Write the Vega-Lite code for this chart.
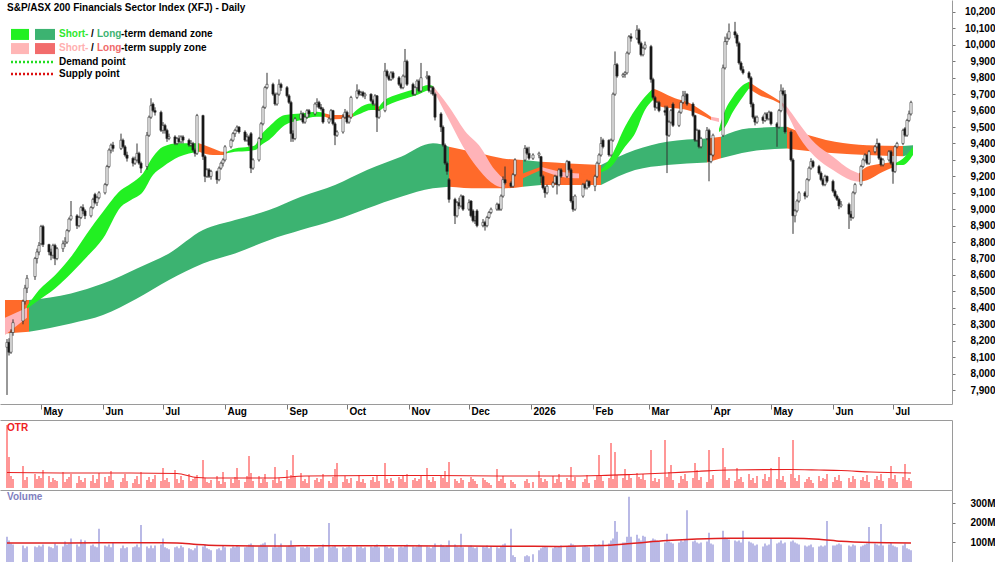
{
"$schema":"https://vega.github.io/schema/vega-lite/v6.json",
"padding":0,
"spacing":0,
"background":"white",
"config":{"font":"Liberation Sans","view":{"stroke":null},"axis":{"grid":false}},
"datasets":{
"px":[
{"d":"2025-04-14","o":8160,"h":8210,"l":7870,"c":8190,"r":63,"v":130},
{"d":"2025-04-15","o":8190,"h":8215,"l":8110,"c":8130,"r":31,"v":110},
{"d":"2025-04-16","o":8130,"h":8270,"l":8120,"c":8250,"r":12,"v":95},
{"d":"2025-04-17","o":8250,"h":8330,"l":8230,"c":8310,"r":9,"v":90},
{"d":"2025-04-22","o":8320,"h":8450,"l":8300,"c":8440,"r":22,"v":85},
{"d":"2025-04-23","o":8440,"h":8540,"l":8420,"c":8520,"r":8,"v":70},
{"d":"2025-04-24","o":8520,"h":8600,"l":8490,"c":8580,"r":11,"v":80},
{"d":"2025-04-28","o":8590,"h":8710,"l":8570,"c":8700,"r":14,"v":80},
{"d":"2025-04-29","o":8700,"h":8760,"l":8670,"c":8740,"r":9,"v":75},
{"d":"2025-04-30","o":8740,"h":8800,"l":8720,"c":8780,"r":12,"v":85},
{"d":"2025-05-01","o":8790,"h":8905,"l":8780,"c":8895,"r":10,"v":80},
{"d":"2025-05-02","o":8895,"h":8905,"l":8770,"c":8785,"r":18,"v":90},
{"d":"2025-05-05","o":8785,"h":8790,"l":8720,"c":8740,"r":12,"v":80},
{"d":"2025-05-06","o":8740,"h":8760,"l":8690,"c":8720,"r":6,"v":75},
{"d":"2025-05-07","o":8720,"h":8790,"l":8700,"c":8780,"r":10,"v":70},
{"d":"2025-05-08","o":8780,"h":8790,"l":8660,"c":8700,"r":8,"v":95},
{"d":"2025-05-09","o":8700,"h":8770,"l":8690,"c":8760,"r":7,"v":85},
{"d":"2025-05-12","o":8760,"h":8810,"l":8740,"c":8790,"r":16,"v":80},
{"d":"2025-05-13","o":8790,"h":8830,"l":8770,"c":8800,"r":6,"v":105},
{"d":"2025-05-14","o":8800,"h":8880,"l":8790,"c":8870,"r":9,"v":90},
{"d":"2025-05-15","o":8870,"h":8950,"l":8860,"c":8940,"r":11,"v":95},
{"d":"2025-05-16","o":8940,"h":9050,"l":8930,"c":8960,"r":14,"v":120},
{"d":"2025-05-19","o":8960,"h":8970,"l":8880,"c":8900,"r":5,"v":90},
{"d":"2025-05-20","o":8900,"h":8960,"l":8890,"c":8950,"r":12,"v":80},
{"d":"2025-05-21","o":8950,"h":9020,"l":8940,"c":9010,"r":8,"v":115},
{"d":"2025-05-22","o":9010,"h":9030,"l":8970,"c":8990,"r":6,"v":95},
{"d":"2025-05-23","o":8990,"h":9000,"l":8940,"c":8960,"r":10,"v":110},
{"d":"2025-05-26","o":8960,"h":9020,"l":8950,"c":9010,"r":7,"v":85},
{"d":"2025-05-27","o":9010,"h":9070,"l":9000,"c":9060,"r":13,"v":90},
{"d":"2025-05-28","o":9090,"h":9100,"l":9030,"c":9040,"r":5,"v":80},
{"d":"2025-05-29","o":9040,"h":9080,"l":9020,"c":9070,"r":9,"v":75},
{"d":"2025-05-30","o":9070,"h":9110,"l":9060,"c":9100,"r":15,"v":170},
{"d":"2025-06-02","o":9100,"h":9160,"l":9090,"c":9150,"r":11,"v":85},
{"d":"2025-06-03","o":9150,"h":9270,"l":9140,"c":9260,"r":6,"v":80},
{"d":"2025-06-04","o":9260,"h":9370,"l":9250,"c":9360,"r":12,"v":90},
{"d":"2025-06-05","o":9360,"h":9400,"l":9340,"c":9390,"r":17,"v":75},
{"d":"2025-06-06","o":9390,"h":9410,"l":9350,"c":9370,"r":8,"v":100},
{"d":"2025-06-10","o":9370,"h":9460,"l":9360,"c":9420,"r":6,"v":70},
{"d":"2025-06-11","o":9420,"h":9430,"l":9370,"c":9380,"r":10,"v":85},
{"d":"2025-06-12","o":9380,"h":9390,"l":9320,"c":9330,"r":14,"v":70},
{"d":"2025-06-13","o":9330,"h":9350,"l":9290,"c":9310,"r":7,"v":75},
{"d":"2025-06-16","o":9310,"h":9320,"l":9260,"c":9280,"r":5,"v":75},
{"d":"2025-06-17","o":9280,"h":9320,"l":9270,"c":9300,"r":9,"v":80},
{"d":"2025-06-18","o":9300,"h":9400,"l":9290,"c":9340,"r":12,"v":90},
{"d":"2025-06-19","o":9340,"h":9350,"l":9270,"c":9280,"r":4,"v":75},
{"d":"2025-06-20","o":9280,"h":9290,"l":9220,"c":9250,"r":16,"v":190},
{"d":"2025-06-23","o":9260,"h":9470,"l":9240,"c":9450,"r":8,"v":80},
{"d":"2025-06-24","o":9450,"h":9570,"l":9440,"c":9560,"r":11,"v":70},
{"d":"2025-06-25","o":9560,"h":9675,"l":9550,"c":9630,"r":6,"v":85},
{"d":"2025-06-26","o":9640,"h":9650,"l":9590,"c":9600,"r":9,"v":70},
{"d":"2025-06-27","o":9600,"h":9620,"l":9570,"c":9590,"r":13,"v":85},
{"d":"2025-06-30","o":9590,"h":9600,"l":9470,"c":9480,"r":7,"v":90},
{"d":"2025-07-01","o":9480,"h":9530,"l":9460,"c":9510,"r":20,"v":120},
{"d":"2025-07-02","o":9510,"h":9520,"l":9460,"c":9480,"r":8,"v":75},
{"d":"2025-07-03","o":9480,"h":9490,"l":9410,"c":9430,"r":10,"v":70},
{"d":"2025-07-04","o":9430,"h":9460,"l":9420,"c":9440,"r":6,"v":65},
{"d":"2025-07-07","o":9440,"h":9450,"l":9390,"c":9400,"r":18,"v":75},
{"d":"2025-07-08","o":9400,"h":9440,"l":9390,"c":9430,"r":9,"v":80},
{"d":"2025-07-09","o":9430,"h":9450,"l":9400,"c":9410,"r":5,"v":70},
{"d":"2025-07-10","o":9410,"h":9450,"l":9400,"c":9440,"r":12,"v":85},
{"d":"2025-07-11","o":9440,"h":9450,"l":9400,"c":9420,"r":8,"v":75},
{"d":"2025-07-14","o":9420,"h":9430,"l":9380,"c":9390,"r":14,"v":70},
{"d":"2025-07-15","o":9390,"h":9420,"l":9380,"c":9400,"r":7,"v":65},
{"d":"2025-07-16","o":9400,"h":9410,"l":9350,"c":9360,"r":9,"v":60},
{"d":"2025-07-17","o":9360,"h":9370,"l":9320,"c":9340,"r":11,"v":70},
{"d":"2025-07-18","o":9340,"h":9580,"l":9330,"c":9570,"r":13,"v":85},
{"d":"2025-07-21","o":9570,"h":9575,"l":9300,"c":9320,"r":28,"v":80},
{"d":"2025-07-22","o":9320,"h":9330,"l":9165,"c":9200,"r":10,"v":90},
{"d":"2025-07-23","o":9200,"h":9250,"l":9190,"c":9240,"r":6,"v":70},
{"d":"2025-07-24","o":9240,"h":9250,"l":9190,"c":9200,"r":5,"v":65},
{"d":"2025-07-25","o":9200,"h":9240,"l":9180,"c":9230,"r":8,"v":60},
{"d":"2025-07-28","o":9230,"h":9235,"l":9155,"c":9180,"r":12,"v":65},
{"d":"2025-07-29","o":9180,"h":9260,"l":9170,"c":9250,"r":7,"v":70},
{"d":"2025-07-30","o":9250,"h":9290,"l":9240,"c":9280,"r":4,"v":60},
{"d":"2025-07-31","o":9280,"h":9310,"l":9260,"c":9300,"r":16,"v":85},
{"d":"2025-08-01","o":9300,"h":9390,"l":9290,"c":9380,"r":6,"v":75},
{"d":"2025-08-04","o":9380,"h":9430,"l":9370,"c":9420,"r":9,"v":70},
{"d":"2025-08-05","o":9420,"h":9470,"l":9410,"c":9460,"r":5,"v":80},
{"d":"2025-08-06","o":9460,"h":9490,"l":9440,"c":9480,"r":11,"v":75},
{"d":"2025-08-07","o":9480,"h":9510,"l":9470,"c":9500,"r":20,"v":85},
{"d":"2025-08-08","o":9500,"h":9505,"l":9460,"c":9470,"r":8,"v":80},
{"d":"2025-08-11","o":9470,"h":9480,"l":9410,"c":9420,"r":6,"v":75},
{"d":"2025-08-12","o":9420,"h":9460,"l":9410,"c":9440,"r":12,"v":80},
{"d":"2025-08-13","o":9440,"h":9450,"l":9380,"c":9390,"r":32,"v":90},
{"d":"2025-08-14","o":9460,"h":9470,"l":9220,"c":9250,"r":15,"v":95},
{"d":"2025-08-15","o":9250,"h":9310,"l":9240,"c":9300,"r":7,"v":85},
{"d":"2025-08-18","o":9300,"h":9440,"l":9290,"c":9430,"r":12,"v":80},
{"d":"2025-08-19","o":9430,"h":9530,"l":9420,"c":9520,"r":5,"v":90},
{"d":"2025-08-20","o":9520,"h":9630,"l":9510,"c":9620,"r":9,"v":95},
{"d":"2025-08-21","o":9620,"h":9750,"l":9610,"c":9740,"r":14,"v":100},
{"d":"2025-08-22","o":9740,"h":9830,"l":9730,"c":9760,"r":6,"v":80},
{"d":"2025-08-25","o":9760,"h":9770,"l":9690,"c":9700,"r":8,"v":75},
{"d":"2025-08-26","o":9700,"h":9710,"l":9630,"c":9640,"r":21,"v":145},
{"d":"2025-08-27","o":9640,"h":9710,"l":9630,"c":9700,"r":5,"v":75},
{"d":"2025-08-28","o":9700,"h":9790,"l":9690,"c":9760,"r":10,"v":80},
{"d":"2025-08-29","o":9760,"h":9770,"l":9720,"c":9740,"r":7,"v":95},
{"d":"2025-09-01","o":9740,"h":9750,"l":9680,"c":9690,"r":18,"v":80},
{"d":"2025-09-02","o":9690,"h":9700,"l":9640,"c":9650,"r":9,"v":85},
{"d":"2025-09-03","o":9650,"h":9660,"l":9410,"c":9460,"r":13,"v":110},
{"d":"2025-09-04","o":9460,"h":9480,"l":9410,"c":9430,"r":33,"v":85},
{"d":"2025-09-05","o":9430,"h":9560,"l":9420,"c":9550,"r":11,"v":80},
{"d":"2025-09-08","o":9550,"h":9600,"l":9540,"c":9580,"r":15,"v":75},
{"d":"2025-09-09","o":9580,"h":9590,"l":9520,"c":9530,"r":7,"v":75},
{"d":"2025-09-10","o":9530,"h":9570,"l":9520,"c":9560,"r":9,"v":70},
{"d":"2025-09-11","o":9560,"h":9610,"l":9550,"c":9600,"r":5,"v":80},
{"d":"2025-09-12","o":9600,"h":9610,"l":9560,"c":9580,"r":12,"v":75},
{"d":"2025-09-15","o":9580,"h":9650,"l":9570,"c":9640,"r":8,"v":70},
{"d":"2025-09-16","o":9640,"h":9675,"l":9620,"c":9650,"r":10,"v":70},
{"d":"2025-09-17","o":9650,"h":9660,"l":9610,"c":9620,"r":6,"v":75},
{"d":"2025-09-18","o":9620,"h":9640,"l":9600,"c":9610,"r":9,"v":75},
{"d":"2025-09-19","o":9610,"h":9620,"l":9520,"c":9530,"r":14,"v":90},
{"d":"2025-09-22","o":9530,"h":9560,"l":9520,"c":9550,"r":7,"v":200},
{"d":"2025-09-23","o":9550,"h":9610,"l":9540,"c":9600,"r":5,"v":75},
{"d":"2025-09-24","o":9600,"h":9605,"l":9510,"c":9520,"r":11,"v":80},
{"d":"2025-09-25","o":9520,"h":9530,"l":9390,"c":9450,"r":19,"v":85},
{"d":"2025-09-26","o":9450,"h":9480,"l":9440,"c":9470,"r":25,"v":70},
{"d":"2025-09-29","o":9470,"h":9580,"l":9460,"c":9560,"r":6,"v":75},
{"d":"2025-09-30","o":9560,"h":9610,"l":9550,"c":9590,"r":12,"v":70},
{"d":"2025-10-01","o":9590,"h":9600,"l":9520,"c":9530,"r":9,"v":75},
{"d":"2025-10-02","o":9530,"h":9570,"l":9520,"c":9560,"r":5,"v":80},
{"d":"2025-10-03","o":9560,"h":9690,"l":9550,"c":9680,"r":10,"v":75},
{"d":"2025-10-06","o":9680,"h":9760,"l":9670,"c":9720,"r":7,"v":80},
{"d":"2025-10-07","o":9720,"h":9730,"l":9690,"c":9700,"r":13,"v":75},
{"d":"2025-10-08","o":9700,"h":9720,"l":9690,"c":9710,"r":6,"v":80},
{"d":"2025-10-09","o":9710,"h":9720,"l":9680,"c":9690,"r":9,"v":70},
{"d":"2025-10-10","o":9690,"h":9710,"l":9670,"c":9700,"r":5,"v":75},
{"d":"2025-10-13","o":9700,"h":9705,"l":9650,"c":9660,"r":8,"v":80},
{"d":"2025-10-14","o":9660,"h":9670,"l":9630,"c":9640,"r":11,"v":75},
{"d":"2025-10-15","o":9640,"h":9700,"l":9630,"c":9690,"r":6,"v":85},
{"d":"2025-10-16","o":9690,"h":9695,"l":9470,"c":9560,"r":12,"v":90},
{"d":"2025-10-17","o":9560,"h":9610,"l":9550,"c":9600,"r":7,"v":75},
{"d":"2025-10-20","o":9600,"h":9890,"l":9590,"c":9840,"r":25,"v":85},
{"d":"2025-10-21","o":9840,"h":9850,"l":9800,"c":9810,"r":9,"v":80},
{"d":"2025-10-22","o":9810,"h":9820,"l":9780,"c":9790,"r":5,"v":70},
{"d":"2025-10-23","o":9790,"h":9840,"l":9780,"c":9830,"r":10,"v":75},
{"d":"2025-10-24","o":9830,"h":9840,"l":9790,"c":9800,"r":7,"v":70},
{"d":"2025-10-27","o":9800,"h":9810,"l":9750,"c":9760,"r":11,"v":75},
{"d":"2025-10-28","o":9760,"h":9770,"l":9730,"c":9740,"r":9,"v":80},
{"d":"2025-10-29","o":9740,"h":9820,"l":9730,"c":9810,"r":12,"v":75},
{"d":"2025-10-30","o":9810,"h":9975,"l":9800,"c":9900,"r":6,"v":85},
{"d":"2025-10-31","o":9900,"h":9910,"l":9750,"c":9760,"r":14,"v":90},
{"d":"2025-11-03","o":9760,"h":9770,"l":9690,"c":9700,"r":8,"v":80},
{"d":"2025-11-04","o":9700,"h":9750,"l":9690,"c":9740,"r":10,"v":75},
{"d":"2025-11-05","o":9740,"h":9790,"l":9730,"c":9780,"r":7,"v":80},
{"d":"2025-11-06","o":9780,"h":9790,"l":9710,"c":9720,"r":9,"v":90},
{"d":"2025-11-07","o":9720,"h":9890,"l":9710,"c":9800,"r":12,"v":85},
{"d":"2025-11-10","o":9800,"h":9840,"l":9790,"c":9810,"r":20,"v":80},
{"d":"2025-11-11","o":9810,"h":9815,"l":9710,"c":9720,"r":8,"v":75},
{"d":"2025-11-12","o":9720,"h":9750,"l":9700,"c":9740,"r":6,"v":70},
{"d":"2025-11-13","o":9740,"h":9750,"l":9690,"c":9700,"r":11,"v":80},
{"d":"2025-11-14","o":9700,"h":9710,"l":9540,"c":9560,"r":7,"v":95},
{"d":"2025-11-17","o":9580,"h":9590,"l":9470,"c":9500,"r":13,"v":90},
{"d":"2025-11-18","o":9500,"h":9510,"l":9380,"c":9390,"r":10,"v":85},
{"d":"2025-11-19","o":9390,"h":9400,"l":9270,"c":9280,"r":17,"v":80},
{"d":"2025-11-20","o":9280,"h":9290,"l":9210,"c":9230,"r":6,"v":85},
{"d":"2025-11-21","o":9180,"h":9190,"l":9040,"c":9060,"r":26,"v":110},
{"d":"2025-11-24","o":9060,"h":9070,"l":8910,"c":8960,"r":9,"v":90},
{"d":"2025-11-25","o":8960,"h":9050,"l":8950,"c":9040,"r":7,"v":80},
{"d":"2025-11-26","o":9040,"h":9070,"l":9000,"c":9020,"r":5,"v":75},
{"d":"2025-11-27","o":9020,"h":9090,"l":9010,"c":9080,"r":10,"v":145},
{"d":"2025-11-28","o":9080,"h":9085,"l":8990,"c":9000,"r":8,"v":75},
{"d":"2025-12-01","o":9000,"h":9060,"l":8990,"c":9040,"r":6,"v":80},
{"d":"2025-12-02","o":9050,"h":9055,"l":8950,"c":8960,"r":11,"v":85},
{"d":"2025-12-03","o":8990,"h":9000,"l":8920,"c":8930,"r":9,"v":75},
{"d":"2025-12-04","o":8930,"h":8960,"l":8910,"c":8930,"r":7,"v":70},
{"d":"2025-12-05","o":8990,"h":9000,"l":8890,"c":8900,"r":4,"v":75},
{"d":"2025-12-08","o":8900,"h":8940,"l":8890,"c":8920,"r":10,"v":80},
{"d":"2025-12-09","o":8920,"h":8930,"l":8870,"c":8900,"r":8,"v":75},
{"d":"2025-12-10","o":8900,"h":8960,"l":8890,"c":8950,"r":6,"v":85},
{"d":"2025-12-11","o":8950,"h":8990,"l":8940,"c":8980,"r":5,"v":70},
{"d":"2025-12-12","o":8980,"h":9010,"l":8970,"c":9000,"r":3,"v":80},
{"d":"2025-12-15","o":9000,"h":9040,"l":8990,"c":9030,"r":19,"v":75},
{"d":"2025-12-16","o":9030,"h":9035,"l":8990,"c":9000,"r":7,"v":70},
{"d":"2025-12-17","o":9000,"h":9090,"l":8990,"c":9080,"r":9,"v":80},
{"d":"2025-12-18","o":9080,"h":9200,"l":9070,"c":9180,"r":12,"v":90},
{"d":"2025-12-19","o":9180,"h":9260,"l":9150,"c":9160,"r":5,"v":95},
{"d":"2025-12-22","o":9160,"h":9170,"l":9130,"c":9140,"r":8,"v":170},
{"d":"2025-12-23","o":9140,"h":9220,"l":9130,"c":9210,"r":6,"v":35},
{"d":"2025-12-24","o":9210,"h":9310,"l":9200,"c":9300,"r":4,"v":25},
{"d":"2025-12-29","o":9300,"h":9390,"l":9290,"c":9370,"r":7,"v":30},
{"d":"2025-12-30","o":9370,"h":9380,"l":9330,"c":9340,"r":9,"v":35},
{"d":"2025-12-31","o":9340,"h":9380,"l":9300,"c":9310,"r":5,"v":30},
{"d":"2026-01-02","o":9310,"h":9340,"l":9300,"c":9330,"r":6,"v":40},
{"d":"2026-01-05","o":9330,"h":9350,"l":9310,"c":9340,"r":17,"v":60},
{"d":"2026-01-06","o":9320,"h":9325,"l":9160,"c":9200,"r":10,"v":70},
{"d":"2026-01-07","o":9200,"h":9210,"l":9120,"c":9130,"r":6,"v":75},
{"d":"2026-01-08","o":9130,"h":9140,"l":9070,"c":9100,"r":9,"v":80},
{"d":"2026-01-09","o":9100,"h":9150,"l":9090,"c":9140,"r":7,"v":75},
{"d":"2026-01-12","o":9140,"h":9170,"l":9130,"c":9160,"r":12,"v":70},
{"d":"2026-01-13","o":9160,"h":9210,"l":9150,"c":9200,"r":5,"v":80},
{"d":"2026-01-14","o":9200,"h":9205,"l":9090,"c":9150,"r":9,"v":75},
{"d":"2026-01-15","o":9150,"h":9250,"l":9140,"c":9240,"r":14,"v":80},
{"d":"2026-01-16","o":9240,"h":9250,"l":9190,"c":9200,"r":6,"v":85},
{"d":"2026-01-19","o":9200,"h":9300,"l":9190,"c":9290,"r":10,"v":80},
{"d":"2026-01-20","o":9290,"h":9295,"l":9230,"c":9240,"r":8,"v":85},
{"d":"2026-01-21","o":9240,"h":9250,"l":9040,"c":9050,"r":21,"v":95},
{"d":"2026-01-22","o":9050,"h":9080,"l":8985,"c":9000,"r":7,"v":90},
{"d":"2026-01-23","o":9000,"h":9090,"l":8990,"c":9080,"r":11,"v":85},
{"d":"2026-01-27","o":9080,"h":9160,"l":9070,"c":9150,"r":6,"v":80},
{"d":"2026-01-28","o":9150,"h":9160,"l":9120,"c":9130,"r":9,"v":85},
{"d":"2026-01-29","o":9130,"h":9180,"l":9120,"c":9170,"r":13,"v":80},
{"d":"2026-01-30","o":9170,"h":9175,"l":9130,"c":9140,"r":5,"v":75},
{"d":"2026-02-02","o":9140,"h":9210,"l":9110,"c":9200,"r":8,"v":90},
{"d":"2026-02-03","o":9200,"h":9290,"l":9190,"c":9280,"r":12,"v":85},
{"d":"2026-02-04","o":9280,"h":9340,"l":9270,"c":9330,"r":33,"v":90},
{"d":"2026-02-05","o":9330,"h":9440,"l":9320,"c":9400,"r":12,"v":85},
{"d":"2026-02-06","o":9420,"h":9430,"l":9370,"c":9380,"r":7,"v":110},
{"d":"2026-02-09","o":9420,"h":9425,"l":9320,"c":9330,"r":10,"v":95},
{"d":"2026-02-10","o":9330,"h":9430,"l":9320,"c":9420,"r":45,"v":110},
{"d":"2026-02-11","o":9420,"h":9710,"l":9410,"c":9700,"r":9,"v":120},
{"d":"2026-02-12","o":9700,"h":9960,"l":9690,"c":9880,"r":36,"v":210},
{"d":"2026-02-13","o":9880,"h":9890,"l":9800,"c":9810,"r":13,"v":155},
{"d":"2026-02-16","o":9810,"h":9830,"l":9800,"c":9820,"r":10,"v":100},
{"d":"2026-02-17","o":9820,"h":9840,"l":9800,"c":9830,"r":19,"v":100},
{"d":"2026-02-18","o":9830,"h":9960,"l":9820,"c":9950,"r":8,"v":130},
{"d":"2026-02-19","o":9950,"h":10060,"l":9940,"c":10050,"r":14,"v":335},
{"d":"2026-02-20","o":10050,"h":10070,"l":10020,"c":10040,"r":10,"v":130},
{"d":"2026-02-23","o":10040,"h":10120,"l":10030,"c":10090,"r":15,"v":140},
{"d":"2026-02-24","o":10090,"h":10100,"l":10000,"c":10010,"r":11,"v":120},
{"d":"2026-02-25","o":10010,"h":10020,"l":9930,"c":9940,"r":9,"v":110},
{"d":"2026-02-26","o":9940,"h":9990,"l":9930,"c":9980,"r":14,"v":135},
{"d":"2026-02-27","o":9980,"h":10020,"l":9970,"c":10000,"r":8,"v":130},
{"d":"2026-03-02","o":9990,"h":10000,"l":9770,"c":9790,"r":38,"v":110},
{"d":"2026-03-03","o":9790,"h":9800,"l":9670,"c":9680,"r":7,"v":120},
{"d":"2026-03-04","o":9680,"h":9690,"l":9600,"c":9620,"r":10,"v":115},
{"d":"2026-03-05","o":9620,"h":9660,"l":9610,"c":9650,"r":6,"v":110},
{"d":"2026-03-06","o":9650,"h":9660,"l":9590,"c":9600,"r":9,"v":105},
{"d":"2026-03-09","o":9600,"h":9630,"l":9570,"c":9590,"r":48,"v":100},
{"d":"2026-03-10","o":9620,"h":9630,"l":9220,"c":9450,"r":11,"v":145},
{"d":"2026-03-11","o":9450,"h":9540,"l":9440,"c":9530,"r":16,"v":105},
{"d":"2026-03-12","o":9530,"h":9610,"l":9520,"c":9600,"r":23,"v":100},
{"d":"2026-03-13","o":9640,"h":9650,"l":9500,"c":9510,"r":8,"v":95},
{"d":"2026-03-16","o":9510,"h":9600,"l":9500,"c":9590,"r":5,"v":100},
{"d":"2026-03-17","o":9590,"h":9660,"l":9580,"c":9650,"r":12,"v":110},
{"d":"2026-03-18","o":9650,"h":9720,"l":9640,"c":9690,"r":9,"v":105},
{"d":"2026-03-19","o":9690,"h":9720,"l":9660,"c":9700,"r":14,"v":115},
{"d":"2026-03-20","o":9700,"h":9705,"l":9630,"c":9640,"r":7,"v":265},
{"d":"2026-03-23","o":9640,"h":9650,"l":9560,"c":9570,"r":10,"v":105},
{"d":"2026-03-24","o":9570,"h":9575,"l":9410,"c":9420,"r":25,"v":110},
{"d":"2026-03-25","o":9420,"h":9490,"l":9410,"c":9480,"r":18,"v":100},
{"d":"2026-03-26","o":9480,"h":9485,"l":9370,"c":9380,"r":8,"v":95},
{"d":"2026-03-27","o":9380,"h":9440,"l":9370,"c":9430,"r":11,"v":100},
{"d":"2026-03-30","o":9430,"h":9500,"l":9420,"c":9480,"r":6,"v":105},
{"d":"2026-03-31","o":9480,"h":9490,"l":9170,"c":9290,"r":38,"v":150},
{"d":"2026-04-01","o":9290,"h":9340,"l":9280,"c":9330,"r":9,"v":95},
{"d":"2026-04-02","o":9330,"h":9460,"l":9320,"c":9450,"r":13,"v":90},
{"d":"2026-04-07","o":9450,"h":9880,"l":9440,"c":9860,"r":40,"v":160},
{"d":"2026-04-08","o":9860,"h":10050,"l":9850,"c":10020,"r":21,"v":125},
{"d":"2026-04-09","o":10020,"h":10070,"l":10000,"c":10040,"r":8,"v":120},
{"d":"2026-04-10","o":10040,"h":10130,"l":10030,"c":10080,"r":10,"v":115},
{"d":"2026-04-13","o":10080,"h":10140,"l":10040,"c":10060,"r":7,"v":110},
{"d":"2026-04-14","o":10060,"h":10070,"l":9990,"c":10010,"r":20,"v":105},
{"d":"2026-04-15","o":10010,"h":10020,"l":9880,"c":9890,"r":9,"v":110},
{"d":"2026-04-16","o":9890,"h":9900,"l":9840,"c":9850,"r":11,"v":100},
{"d":"2026-04-17","o":9850,"h":9870,"l":9820,"c":9830,"r":6,"v":160},
{"d":"2026-04-20","o":9830,"h":9840,"l":9790,"c":9800,"r":14,"v":105},
{"d":"2026-04-21","o":9800,"h":9810,"l":9620,"c":9640,"r":8,"v":100},
{"d":"2026-04-22","o":9640,"h":9650,"l":9550,"c":9560,"r":10,"v":95},
{"d":"2026-04-23","o":9560,"h":9570,"l":9510,"c":9530,"r":5,"v":85},
{"d":"2026-04-24","o":9530,"h":9570,"l":9520,"c":9560,"r":12,"v":90},
{"d":"2026-04-27","o":9560,"h":9570,"l":9520,"c":9540,"r":9,"v":80},
{"d":"2026-04-28","o":9540,"h":9590,"l":9530,"c":9580,"r":14,"v":95},
{"d":"2026-04-29","o":9580,"h":9590,"l":9540,"c":9550,"r":7,"v":85},
{"d":"2026-04-30","o":9550,"h":9600,"l":9540,"c":9590,"r":11,"v":90},
{"d":"2026-05-01","o":9590,"h":9595,"l":9510,"c":9520,"r":20,"v":120},
{"d":"2026-05-04","o":9520,"h":9530,"l":9380,"c":9500,"r":9,"v":95},
{"d":"2026-05-05","o":9500,"h":9610,"l":9490,"c":9600,"r":31,"v":100},
{"d":"2026-05-06","o":9600,"h":9760,"l":9590,"c":9720,"r":8,"v":110},
{"d":"2026-05-07","o":9720,"h":9740,"l":9690,"c":9700,"r":12,"v":95},
{"d":"2026-05-08","o":9700,"h":9725,"l":9460,"c":9470,"r":6,"v":100},
{"d":"2026-05-11","o":9470,"h":9480,"l":9290,"c":9300,"r":14,"v":105},
{"d":"2026-05-12","o":9300,"h":9310,"l":8850,"c":8960,"r":48,"v":110},
{"d":"2026-05-13","o":8960,"h":9000,"l":8920,"c":8990,"r":10,"v":100},
{"d":"2026-05-14","o":8990,"h":9060,"l":8980,"c":9050,"r":7,"v":95},
{"d":"2026-05-15","o":9050,"h":9110,"l":9040,"c":9100,"r":13,"v":90},
{"d":"2026-05-18","o":9100,"h":9110,"l":9060,"c":9080,"r":6,"v":85},
{"d":"2026-05-19","o":9080,"h":9190,"l":9070,"c":9180,"r":9,"v":80},
{"d":"2026-05-20","o":9180,"h":9260,"l":9170,"c":9250,"r":11,"v":85},
{"d":"2026-05-21","o":9250,"h":9310,"l":9240,"c":9290,"r":8,"v":90},
{"d":"2026-05-22","o":9290,"h":9300,"l":9250,"c":9260,"r":5,"v":75},
{"d":"2026-05-25","o":9260,"h":9270,"l":9210,"c":9220,"r":12,"v":80},
{"d":"2026-05-26","o":9220,"h":9230,"l":9170,"c":9180,"r":7,"v":85},
{"d":"2026-05-27","o":9180,"h":9190,"l":9140,"c":9150,"r":10,"v":80},
{"d":"2026-05-28","o":9150,"h":9210,"l":9140,"c":9200,"r":9,"v":85},
{"d":"2026-05-29","o":9200,"h":9205,"l":9160,"c":9170,"r":14,"v":210},
{"d":"2026-06-01","o":9170,"h":9180,"l":9100,"c":9110,"r":6,"v":85},
{"d":"2026-06-02","o":9110,"h":9120,"l":9070,"c":9080,"r":11,"v":85},
{"d":"2026-06-03","o":9080,"h":9090,"l":9050,"c":9060,"r":8,"v":90},
{"d":"2026-06-04","o":9060,"h":9070,"l":9000,"c":9020,"r":13,"v":95},
{"d":"2026-06-05","o":9020,"h":9050,"l":9010,"c":9030,"r":7,"v":90},
{"d":"2026-06-09","o":9030,"h":9040,"l":8880,"c":8970,"r":10,"v":85},
{"d":"2026-06-10","o":8970,"h":8990,"l":8930,"c":8950,"r":6,"v":80},
{"d":"2026-06-11","o":8950,"h":9110,"l":8940,"c":9100,"r":12,"v":90},
{"d":"2026-06-12","o":9100,"h":9160,"l":9090,"c":9150,"r":9,"v":85},
{"d":"2026-06-15","o":9150,"h":9270,"l":9140,"c":9260,"r":8,"v":80},
{"d":"2026-06-16","o":9260,"h":9310,"l":9250,"c":9300,"r":11,"v":85},
{"d":"2026-06-17","o":9300,"h":9340,"l":9290,"c":9330,"r":7,"v":90},
{"d":"2026-06-18","o":9330,"h":9335,"l":9270,"c":9280,"r":13,"v":95},
{"d":"2026-06-19","o":9280,"h":9360,"l":9270,"c":9350,"r":6,"v":180},
{"d":"2026-06-22","o":9350,"h":9390,"l":9340,"c":9380,"r":9,"v":95},
{"d":"2026-06-23","o":9380,"h":9430,"l":9370,"c":9400,"r":12,"v":90},
{"d":"2026-06-24","o":9400,"h":9405,"l":9300,"c":9310,"r":8,"v":85},
{"d":"2026-06-25","o":9310,"h":9320,"l":9260,"c":9270,"r":14,"v":195},
{"d":"2026-06-26","o":9270,"h":9310,"l":9260,"c":9300,"r":7,"v":85},
{"d":"2026-06-29","o":9300,"h":9360,"l":9290,"c":9350,"r":10,"v":90},
{"d":"2026-06-30","o":9350,"h":9360,"l":9270,"c":9280,"r":22,"v":100},
{"d":"2026-07-01","o":9280,"h":9290,"l":9155,"c":9230,"r":9,"v":85},
{"d":"2026-07-02","o":9230,"h":9390,"l":9220,"c":9380,"r":13,"v":80},
{"d":"2026-07-03","o":9380,"h":9410,"l":9370,"c":9400,"r":6,"v":75},
{"d":"2026-07-06","o":9400,"h":9490,"l":9390,"c":9480,"r":11,"v":85},
{"d":"2026-07-07","o":9490,"h":9500,"l":9440,"c":9450,"r":24,"v":95},
{"d":"2026-07-08","o":9450,"h":9550,"l":9440,"c":9540,"r":8,"v":70},
{"d":"2026-07-09","o":9540,"h":9600,"l":9530,"c":9580,"r":10,"v":65},
{"d":"2026-07-10","o":9580,"h":9660,"l":9570,"c":9650,"r":7,"v":60}
],
"bd":[
{"d":"2025-04-13","t":8447,"b":8244,"z":"LS","g":"L1"},
{"d":"2025-04-25","t":8447,"b":8254,"z":"LS","g":"L1"},
{"d":"2025-04-25","t":8447,"b":8254,"z":"LD","g":"L2"},
{"d":"2025-05-16","t":8488,"b":8305,"z":"LD","g":"L2"},
{"d":"2025-06-01","t":8548,"b":8356,"z":"LD","g":"L2"},
{"d":"2025-06-18","t":8640,"b":8457,"z":"LD","g":"L2"},
{"d":"2025-07-04","t":8731,"b":8569,"z":"LD","g":"L2"},
{"d":"2025-07-21","t":8873,"b":8670,"z":"LD","g":"L2"},
{"d":"2025-08-06","t":8934,"b":8731,"z":"LD","g":"L2"},
{"d":"2025-08-23","t":8995,"b":8812,"z":"LD","g":"L2"},
{"d":"2025-09-08","t":9076,"b":8873,"z":"LD","g":"L2"},
{"d":"2025-09-25","t":9147,"b":8934,"z":"LD","g":"L2"},
{"d":"2025-10-11","t":9238,"b":9005,"z":"LD","g":"L2"},
{"d":"2025-10-28","t":9319,"b":9076,"z":"LD","g":"L2"},
{"d":"2025-11-13","t":9401,"b":9127,"z":"LD","g":"L2"},
{"d":"2025-11-21","t":9380,"b":9137,"z":"LD","g":"L2"},
{"d":"2025-11-21","t":9380,"b":9137,"z":"LS","g":"L3"},
{"d":"2025-12-06","t":9340,"b":9127,"z":"LS","g":"L3"},
{"d":"2025-12-18","t":9309,"b":9127,"z":"LS","g":"L3"},
{"d":"2025-12-28","t":9299,"b":9137,"z":"LS","g":"L3"},
{"d":"2025-12-28","t":9299,"b":9137,"z":"LD","g":"L4"},
{"d":"2026-01-06","t":9289,"b":9147,"z":"LD","g":"L4"},
{"d":"2026-01-06","t":9289,"b":9147,"z":"LS","g":"L5"},
{"d":"2026-01-20","t":9279,"b":9147,"z":"LS","g":"L5"},
{"d":"2026-02-05","t":9269,"b":9147,"z":"LS","g":"L5"},
{"d":"2026-02-05","t":9269,"b":9147,"z":"LD","g":"L6"},
{"d":"2026-02-22","t":9360,"b":9238,"z":"LD","g":"L6"},
{"d":"2026-03-10","t":9411,"b":9269,"z":"LD","g":"L6"},
{"d":"2026-03-30","t":9431,"b":9285,"z":"LD","g":"L6"},
{"d":"2026-03-30","t":9431,"b":9285,"z":"LS","g":"L7"},
{"d":"2026-04-06","t":9441,"b":9310,"z":"LS","g":"L7"},
{"d":"2026-04-06","t":9441,"b":9310,"z":"LD","g":"L8"},
{"d":"2026-04-20","t":9492,"b":9350,"z":"LD","g":"L8"},
{"d":"2026-05-09","t":9502,"b":9370,"z":"LD","g":"L8"},
{"d":"2026-05-09","t":9502,"b":9370,"z":"LS","g":"L9"},
{"d":"2026-05-15","t":9472,"b":9360,"z":"LS","g":"L9"},
{"d":"2026-06-02","t":9411,"b":9340,"z":"LS","g":"L9"},
{"d":"2026-06-18","t":9390,"b":9330,"z":"LS","g":"L9"},
{"d":"2026-07-06","t":9385,"b":9322,"z":"LS","g":"L9"},
{"d":"2026-07-06","t":9385,"b":9322,"z":"LD","g":"L10"},
{"d":"2026-07-11","t":9390,"b":9336,"z":"LD","g":"L10"},
{"d":"2025-04-13","t":8340,"b":8235,"z":"SS","g":"S1"},
{"d":"2025-04-24","t":8400,"b":8340,"z":"SS","g":"S1"},
{"d":"2025-04-24","t":8410,"b":8395,"z":"SD","g":"S2"},
{"d":"2025-04-30","t":8508,"b":8447,"z":"SD","g":"S2"},
{"d":"2025-05-08","t":8599,"b":8518,"z":"SD","g":"S2"},
{"d":"2025-05-16","t":8711,"b":8609,"z":"SD","g":"S2"},
{"d":"2025-05-24","t":8853,"b":8711,"z":"SD","g":"S2"},
{"d":"2025-06-01","t":8985,"b":8822,"z":"SD","g":"S2"},
{"d":"2025-06-10","t":9117,"b":9015,"z":"SD","g":"S2"},
{"d":"2025-06-15","t":9157,"b":9056,"z":"SD","g":"S2"},
{"d":"2025-06-21","t":9218,"b":9106,"z":"SD","g":"S2"},
{"d":"2025-06-26","t":9319,"b":9208,"z":"SD","g":"S2"},
{"d":"2025-07-01","t":9380,"b":9258,"z":"SD","g":"S2"},
{"d":"2025-07-09","t":9401,"b":9319,"z":"SD","g":"S2"},
{"d":"2025-07-19","t":9401,"b":9350,"z":"SD","g":"S2"},
{"d":"2025-07-19","t":9401,"b":9350,"z":"SO","g":"S3"},
{"d":"2025-07-26","t":9370,"b":9330,"z":"SO","g":"S3"},
{"d":"2025-07-31","t":9350,"b":9330,"z":"SO","g":"S3"},
{"d":"2025-08-02","t":9350,"b":9340,"z":"SO","g":"S3"},
{"d":"2025-08-02","t":9350,"b":9340,"z":"SD","g":"S4"},
{"d":"2025-08-06","t":9370,"b":9350,"z":"SD","g":"S4"},
{"d":"2025-08-13","t":9380,"b":9355,"z":"SD","g":"S4"},
{"d":"2025-08-16","t":9390,"b":9360,"z":"SD","g":"S4"},
{"d":"2025-08-19","t":9451,"b":9390,"z":"SD","g":"S4"},
{"d":"2025-08-23","t":9502,"b":9421,"z":"SD","g":"S4"},
{"d":"2025-08-31","t":9573,"b":9512,"z":"SD","g":"S4"},
{"d":"2025-09-08","t":9583,"b":9543,"z":"SD","g":"S4"},
{"d":"2025-09-16","t":9593,"b":9563,"z":"SD","g":"S4"},
{"d":"2025-09-20","t":9583,"b":9563,"z":"SD","g":"S4"},
{"d":"2025-09-20","t":9583,"b":9563,"z":"SO","g":"S5"},
{"d":"2025-09-25","t":9573,"b":9547,"z":"SO","g":"S5"},
{"d":"2025-10-01","t":9573,"b":9553,"z":"SO","g":"S5"},
{"d":"2025-10-04","t":9583,"b":9563,"z":"SO","g":"S5"},
{"d":"2025-10-04","t":9583,"b":9563,"z":"SD","g":"S6"},
{"d":"2025-10-08","t":9624,"b":9583,"z":"SD","g":"S6"},
{"d":"2025-10-13","t":9644,"b":9604,"z":"SD","g":"S6"},
{"d":"2025-10-15","t":9634,"b":9604,"z":"SD","g":"S6"},
{"d":"2025-10-15","t":9634,"b":9604,"z":"SO","g":"S7"},
{"d":"2025-10-17","t":9624,"b":9594,"z":"SO","g":"S7"},
{"d":"2025-10-17","t":9624,"b":9594,"z":"SD","g":"S8"},
{"d":"2025-10-19","t":9654,"b":9614,"z":"SD","g":"S8"},
{"d":"2025-10-28","t":9705,"b":9664,"z":"SD","g":"S8"},
{"d":"2025-11-05","t":9735,"b":9695,"z":"SD","g":"S8"},
{"d":"2025-11-11","t":9756,"b":9725,"z":"SD","g":"S8"},
{"d":"2025-11-13","t":9750,"b":9730,"z":"SD","g":"S8"},
{"d":"2025-11-13","t":9750,"b":9730,"z":"SS","g":"S9"},
{"d":"2025-11-21","t":9624,"b":9543,"z":"SS","g":"S9"},
{"d":"2025-11-30","t":9461,"b":9340,"z":"SS","g":"S9"},
{"d":"2025-12-06","t":9390,"b":9240,"z":"SS","g":"S9"},
{"d":"2025-12-14","t":9238,"b":9147,"z":"SS","g":"S9"},
{"d":"2025-12-19","t":9177,"b":9127,"z":"SS","g":"S9"},
{"d":"2025-12-19","t":9177,"b":9127,"z":"SO","g":"S10"},
{"d":"2025-12-28","t":9218,"b":9188,"z":"SO","g":"S10"},
{"d":"2026-01-06","t":9258,"b":9238,"z":"SO","g":"S10"},
{"d":"2026-01-06","t":9258,"b":9238,"z":"SS","g":"S11"},
{"d":"2026-01-16","t":9228,"b":9198,"z":"SS","g":"S11"},
{"d":"2026-01-25","t":9218,"b":9188,"z":"SS","g":"S11"},
{"d":"2026-01-25","t":9218,"b":9188,"z":"SO","g":"S12"},
{"d":"2026-01-30","t":9208,"b":9177,"z":"SO","g":"S12"},
{"d":"2026-02-05","t":9228,"b":9208,"z":"SO","g":"S12"},
{"d":"2026-02-05","t":9240,"b":9225,"z":"SD","g":"S13"},
{"d":"2026-02-10","t":9319,"b":9258,"z":"SD","g":"S13"},
{"d":"2026-02-17","t":9502,"b":9380,"z":"SD","g":"S13"},
{"d":"2026-02-22","t":9604,"b":9461,"z":"SD","g":"S13"},
{"d":"2026-02-27","t":9685,"b":9604,"z":"SD","g":"S13"},
{"d":"2026-03-03","t":9735,"b":9664,"z":"SD","g":"S13"},
{"d":"2026-03-03","t":9735,"b":9664,"z":"SO","g":"S14"},
{"d":"2026-03-07","t":9715,"b":9624,"z":"SO","g":"S14"},
{"d":"2026-03-14","t":9675,"b":9614,"z":"SO","g":"S14"},
{"d":"2026-03-20","t":9654,"b":9604,"z":"SO","g":"S14"},
{"d":"2026-03-27","t":9604,"b":9573,"z":"SO","g":"S14"},
{"d":"2026-04-01","t":9563,"b":9543,"z":"SO","g":"S14"},
{"d":"2026-04-01","t":9563,"b":9543,"z":"SS","g":"S15"},
{"d":"2026-04-05","t":9553,"b":9530,"z":"SS","g":"S15"},
{"d":"2026-04-05","t":9490,"b":9470,"z":"SD","g":"S16"},
{"d":"2026-04-08","t":9600,"b":9500,"z":"SD","g":"S16"},
{"d":"2026-04-12","t":9685,"b":9593,"z":"SD","g":"S16"},
{"d":"2026-04-17","t":9756,"b":9685,"z":"SD","g":"S16"},
{"d":"2026-04-20","t":9776,"b":9735,"z":"SD","g":"S16"},
{"d":"2026-04-20","t":9776,"b":9735,"z":"SO","g":"S17"},
{"d":"2026-04-25","t":9735,"b":9695,"z":"SO","g":"S17"},
{"d":"2026-05-02","t":9685,"b":9664,"z":"SO","g":"S17"},
{"d":"2026-05-06","t":9654,"b":9640,"z":"SO","g":"S17"},
{"d":"2026-05-06","t":9654,"b":9640,"z":"SS","g":"S18"},
{"d":"2026-05-08","t":9634,"b":9604,"z":"SS","g":"S18"},
{"d":"2026-05-15","t":9522,"b":9441,"z":"SS","g":"S18"},
{"d":"2026-05-23","t":9401,"b":9319,"z":"SS","g":"S18"},
{"d":"2026-06-01","t":9319,"b":9238,"z":"SS","g":"S18"},
{"d":"2026-06-10","t":9238,"b":9177,"z":"SS","g":"S18"},
{"d":"2026-06-14","t":9218,"b":9167,"z":"SS","g":"S18"},
{"d":"2026-06-14","t":9218,"b":9167,"z":"SO","g":"S19"},
{"d":"2026-06-18","t":9258,"b":9177,"z":"SO","g":"S19"},
{"d":"2026-06-26","t":9279,"b":9228,"z":"SO","g":"S19"},
{"d":"2026-07-02","t":9289,"b":9258,"z":"SO","g":"S19"},
{"d":"2026-07-02","t":9280,"b":9268,"z":"SD","g":"S20"},
{"d":"2026-07-06","t":9309,"b":9269,"z":"SD","g":"S20"},
{"d":"2026-07-11","t":9380,"b":9330,"z":"SD","g":"S20"}
],
"ma":[
{"d":"2025-04-14","ra":15.5,"va":98},
{"d":"2025-05-15","ra":15,"va":98},
{"d":"2025-06-15","ra":15,"va":99},
{"d":"2025-07-08","ra":14.5,"va":98},
{"d":"2025-07-18","ra":10.5,"va":90},
{"d":"2025-07-28","ra":10,"va":85},
{"d":"2025-08-25","ra":10,"va":82},
{"d":"2025-09-10","ra":12,"va":83},
{"d":"2025-10-15","ra":12.5,"va":83},
{"d":"2025-11-15","ra":12.5,"va":82},
{"d":"2025-12-15","ra":12,"va":81},
{"d":"2026-01-15","ra":12,"va":80},
{"d":"2026-02-05","ra":12.5,"va":84},
{"d":"2026-02-20","ra":13.5,"va":95},
{"d":"2026-03-10","ra":15,"va":110},
{"d":"2026-03-25","ra":16.5,"va":118},
{"d":"2026-04-10","ra":18,"va":122},
{"d":"2026-05-10","ra":18.5,"va":122},
{"d":"2026-05-25","ra":18,"va":117},
{"d":"2026-06-05","ra":17.5,"va":106},
{"d":"2026-06-20","ra":16,"va":100},
{"d":"2026-07-10","ra":15,"va":98}
]
},
"vconcat":[
{
"width":952,"height":404,
"resolve":{"axis":{"x":"independent","y":"independent"}},
"layer":[
{"data":{"name":"bd"},"transform":[{"filter":"indexof(datum.z,'L')==0"}],
 "mark":{"type":"area","interpolate":"monotone","opacity":1},
 "encoding":{
  "x":{"field":"d","type":"temporal","title":null,
   "scale":{"type":"utc","domain":[{"year":2025,"month":4,"date":13,"utc":true},{"year":2026,"month":7,"date":28,"utc":true}]},
   "axis":{"orient":"bottom","tickCount":{"interval":"month","step":1},"labelExpr":"utcFormat(datum.value,'%m')=='01' ? utcFormat(datum.value,'%Y') : utcFormat(datum.value,'%b')","domainColor":"#9a9a9a","tickColor":"#777","tickSize":5,"labelAlign":"left","labelOffset":2,"labelPadding":-3,"labelFontWeight":"bold","labelFontSize":10,"labelColor":"#000","labelFlush":false,"labelOverlap":false,"minExtent":16,"maxExtent":16}},
  "y":{"field":"t","type":"quantitative","title":null,
   "scale":{"domain":[7815,10273],"nice":false,"zero":false},
   "axis":{"orient":"right","values":[7900,8000,8100,8200,8300,8400,8500,8600,8700,8800,8900,9000,9100,9200,9300,9400,9500,9600,9700,9800,9900,10000,10100,10200],"labelExpr":"format(datum.value, ',.0f')","labelOverlap":false,"tickSize":3,"tickColor":"#777","domainColor":"#9a9a9a","labelAlign":"right","labelPadding":40,"labelFontWeight":"bold","labelFontSize":10,"labelColor":"#000"}},
  "y2":{"field":"b"},
  "color":{"field":"z","type":"nominal","legend":null,"scale":{"domain":["LD","LS","SD","SS","SO"],"range":["#3cb371","#ff6a2a","#22f022","#ffb3b8","#ff6a2a"]}},
  "detail":{"field":"g"}}},
{"data":{"name":"bd"},"transform":[{"filter":"indexof(datum.z,'S')==0"}],
 "mark":{"type":"area","interpolate":"monotone","opacity":1},
 "encoding":{
  "x":{"field":"d","type":"temporal","axis":null},
  "y":{"field":"t","type":"quantitative","axis":null},
  "y2":{"field":"b"},
  "color":{"field":"z","type":"nominal","legend":null},
  "detail":{"field":"g"}}},
{"data":{"name":"px"},"mark":{"type":"rule","color":"#333","strokeWidth":1},
 "encoding":{"x":{"field":"d","type":"temporal","axis":null},"y":{"field":"l","type":"quantitative","axis":null},"y2":{"field":"h"}}},
{"data":{"name":"px"},"mark":{"type":"bar","width":2.2,"stroke":"#333","strokeWidth":0.6},
 "encoding":{"x":{"field":"d","type":"temporal","axis":null},"y":{"field":"o","type":"quantitative","axis":null},"y2":{"field":"c"},
  "fill":{"condition":{"test":"datum.c >= datum.o","value":"#ffffff"},"value":"#111111"}}},
{"data":{"values":[{}]},"mark":{"type":"text","text":"S&P/ASX 200 Financials Sector Index (XFJ) - Daily","align":"left","baseline":"middle","fontSize":10,"fontWeight":"bold","color":"#000"},
 "encoding":{"x":{"datum":{"year":2025,"month":4,"date":14,"utc":true},"type":"temporal","axis":null},"y":{"datum":10224,"type":"quantitative","axis":null}}},
{"data":{"values":[{}]},"mark":{"type":"rect","color":"#22f022"},
 "encoding":{"x":{"datum":{"year":2025,"month":4,"date":16,"utc":true},"type":"temporal","axis":null},"x2":{"datum":{"year":2025,"month":4,"date":25,"utc":true}},"y":{"datum":10097,"type":"quantitative","axis":null},"y2":{"datum":10030}}},
{"data":{"values":[{}]},"mark":{"type":"rect","color":"#3cb371"},
 "encoding":{"x":{"datum":{"year":2025,"month":4,"date":28,"utc":true},"type":"temporal","axis":null},"x2":{"datum":{"year":2025,"month":5,"date":8,"utc":true}},"y":{"datum":10097,"type":"quantitative","axis":null},"y2":{"datum":10030}}},
{"data":{"values":[{}]},"mark":{"type":"rect","color":"#ffb6b6"},
 "encoding":{"x":{"datum":{"year":2025,"month":4,"date":16,"utc":true},"type":"temporal","axis":null},"x2":{"datum":{"year":2025,"month":4,"date":25,"utc":true}},"y":{"datum":10011,"type":"quantitative","axis":null},"y2":{"datum":9944}}},
{"data":{"values":[{}]},"mark":{"type":"rect","color":"#f26c6c"},
 "encoding":{"x":{"datum":{"year":2025,"month":4,"date":28,"utc":true},"type":"temporal","axis":null},"x2":{"datum":{"year":2025,"month":5,"date":8,"utc":true}},"y":{"datum":10011,"type":"quantitative","axis":null},"y2":{"datum":9944}}},
{"data":{"values":[{}]},"mark":{"type":"rule","color":"#22dd22","strokeWidth":2.5,"strokeDash":[2,2]},
 "encoding":{"x":{"datum":{"year":2025,"month":4,"date":16,"utc":true},"type":"temporal","axis":null},"x2":{"datum":{"year":2025,"month":5,"date":7,"utc":true}},"y":{"datum":9896,"type":"quantitative","axis":null}}},
{"data":{"values":[{}]},"mark":{"type":"rule","color":"#dd1111","strokeWidth":2.5,"strokeDash":[2,2]},
 "encoding":{"x":{"datum":{"year":2025,"month":4,"date":16,"utc":true},"type":"temporal","axis":null},"x2":{"datum":{"year":2025,"month":5,"date":7,"utc":true}},"y":{"datum":9823,"type":"quantitative","axis":null}}},
{"data":{"values":[{}]},"mark":{"type":"text","text":"Short-","align":"left","baseline":"middle","fontSize":10,"fontWeight":"bold","color":"#2ee82e"},
 "encoding":{"x":{"datum":{"year":2025,"month":5,"date":10,"utc":true},"type":"temporal","axis":null},"y":{"datum":10064,"type":"quantitative","axis":null}}},
{"data":{"values":[{}]},"mark":{"type":"text","text":"/","align":"left","baseline":"middle","fontSize":10,"fontWeight":"bold","color":"#000"},
 "encoding":{"x":{"datum":{"year":2025,"month":5,"date":26,"utc":true},"type":"temporal","axis":null},"y":{"datum":10064,"type":"quantitative","axis":null}}},
{"data":{"values":[{}]},"mark":{"type":"text","text":"Long","align":"left","baseline":"middle","fontSize":10,"fontWeight":"bold","color":"#3cb371"},
 "encoding":{"x":{"datum":{"year":2025,"month":5,"date":29,"utc":true},"type":"temporal","axis":null},"y":{"datum":10064,"type":"quantitative","axis":null}}},
{"data":{"values":[{}]},"mark":{"type":"text","text":"-term demand zone","align":"left","baseline":"middle","fontSize":10,"fontWeight":"bold","color":"#000"},
 "encoding":{"x":{"datum":{"year":2025,"month":6,"date":10,"utc":true},"type":"temporal","axis":null},"y":{"datum":10064,"type":"quantitative","axis":null}}},
{"data":{"values":[{}]},"mark":{"type":"text","text":"Short-","align":"left","baseline":"middle","fontSize":10,"fontWeight":"bold","color":"#ffb0b0"},
 "encoding":{"x":{"datum":{"year":2025,"month":5,"date":10,"utc":true},"type":"temporal","axis":null},"y":{"datum":9978,"type":"quantitative","axis":null}}},
{"data":{"values":[{}]},"mark":{"type":"text","text":"/","align":"left","baseline":"middle","fontSize":10,"fontWeight":"bold","color":"#000"},
 "encoding":{"x":{"datum":{"year":2025,"month":5,"date":26,"utc":true},"type":"temporal","axis":null},"y":{"datum":9978,"type":"quantitative","axis":null}}},
{"data":{"values":[{}]},"mark":{"type":"text","text":"Long","align":"left","baseline":"middle","fontSize":10,"fontWeight":"bold","color":"#f06a6a"},
 "encoding":{"x":{"datum":{"year":2025,"month":5,"date":29,"utc":true},"type":"temporal","axis":null},"y":{"datum":9978,"type":"quantitative","axis":null}}},
{"data":{"values":[{}]},"mark":{"type":"text","text":"-term supply zone","align":"left","baseline":"middle","fontSize":10,"fontWeight":"bold","color":"#000"},
 "encoding":{"x":{"datum":{"year":2025,"month":6,"date":10,"utc":true},"type":"temporal","axis":null},"y":{"datum":9978,"type":"quantitative","axis":null}}},
{"data":{"values":[{}]},"mark":{"type":"text","text":"Demand point","align":"left","baseline":"middle","fontSize":10,"fontWeight":"bold","color":"#000"},
 "encoding":{"x":{"datum":{"year":2025,"month":5,"date":10,"utc":true},"type":"temporal","axis":null},"y":{"datum":9896,"type":"quantitative","axis":null}}},
{"data":{"values":[{}]},"mark":{"type":"text","text":"Supply point","align":"left","baseline":"middle","fontSize":10,"fontWeight":"bold","color":"#000"},
 "encoding":{"x":{"datum":{"year":2025,"month":5,"date":10,"utc":true},"type":"temporal","axis":null},"y":{"datum":9823,"type":"quantitative","axis":null}}}
]
},
{
"width":952,"height":70,
"resolve":{"axis":{"x":"independent","y":"independent"}},
"layer":[
{"data":{"name":"px"},"mark":{"type":"bar","width":1,"color":"#ff3030"},
 "encoding":{
  "x":{"field":"d","type":"temporal","title":null,
   "scale":{"type":"utc","domain":[{"year":2025,"month":4,"date":13,"utc":true},{"year":2026,"month":7,"date":28,"utc":true}]},
   "axis":{"orient":"top","labels":false,"ticks":false,"domainColor":"#9a9a9a","minExtent":0,"maxExtent":0}},
  "y":{"field":"r","type":"quantitative","title":null,"scale":{"domain":[-2,68],"nice":false,"zero":false},
   "axis":{"orient":"right","labels":false,"ticks":false,"domainColor":"#9a9a9a","minExtent":43,"maxExtent":43}},
  "y2":{"datum":0}}},
{"data":{"name":"ma"},"mark":{"type":"line","color":"#e82020","strokeWidth":1.2,"interpolate":"monotone"},
 "encoding":{"x":{"field":"d","type":"temporal","axis":null},"y":{"field":"ra","type":"quantitative","axis":null}}},
{"data":{"values":[{}]},"mark":{"type":"text","text":"OTR","align":"left","baseline":"middle","fontSize":10,"fontWeight":"bold","color":"#ee2222"},
 "encoding":{"x":{"datum":{"year":2025,"month":4,"date":14,"utc":true},"type":"temporal","axis":null},"y":{"datum":60,"type":"quantitative","axis":null}}}
]
},
{
"width":952,"height":72,
"resolve":{"axis":{"x":"independent","y":"independent"}},
"layer":[
{"data":{"name":"px"},"mark":{"type":"bar","width":1.4,"color":"#9c9cdc"},
 "encoding":{
  "x":{"field":"d","type":"temporal","title":null,
   "scale":{"type":"utc","domain":[{"year":2025,"month":4,"date":13,"utc":true},{"year":2026,"month":7,"date":28,"utc":true}]},
   "axis":{"orient":"top","labels":false,"ticks":false,"domainColor":"#9a9a9a","minExtent":0,"maxExtent":0}},
  "y":{"field":"v","type":"quantitative","title":null,"scale":{"domain":[0,369],"nice":false,"zero":false},
   "axis":{"orient":"right","values":[100,200,300],"labelExpr":"datum.value + 'M'","labelOverlap":false,"tickSize":3,"tickColor":"#777","domainColor":"#9a9a9a","labelAlign":"right","labelPadding":40,"labelFontWeight":"bold","labelFontSize":10,"labelColor":"#000"}},
  "y2":{"datum":0}}},
{"data":{"name":"ma"},"mark":{"type":"line","color":"#e02020","strokeWidth":1.5,"interpolate":"monotone"},
 "encoding":{"x":{"field":"d","type":"temporal","axis":null},"y":{"field":"va","type":"quantitative","axis":null}}},
{"data":{"values":[{}]},"mark":{"type":"text","text":"Volume","align":"left","baseline":"middle","fontSize":10,"fontWeight":"bold","color":"#7f7fbf"},
 "encoding":{"x":{"datum":{"year":2025,"month":4,"date":14,"utc":true},"type":"temporal","axis":null},"y":{"datum":333,"type":"quantitative","axis":null}}}
]
}
]
}
